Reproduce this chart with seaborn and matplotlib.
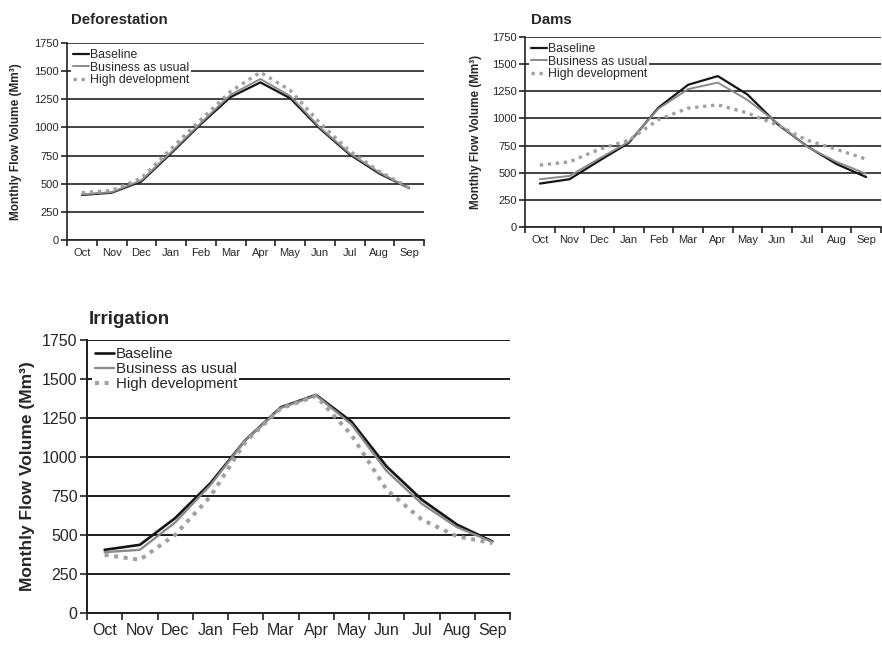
import numpy as np
import pandas as pd
import matplotlib
matplotlib.use("Agg")
import matplotlib.pyplot as plt
import seaborn as sns
from matplotlib.ticker import FixedLocator, NullFormatter

sns.set_style("white")
plt.rcParams['font.family'] = ['Liberation Sans', 'DejaVu Sans']

months = ["Oct", "Nov", "Dec", "Jan", "Feb", "Mar", "Apr", "May", "Jun", "Jul", "Aug", "Sep"]
series_names = ["Baseline", "Business as usual", "High development"]
yticks = [0, 250, 500, 750, 1000, 1250, 1500, 1750]

defor_baseline = [400, 420, 520, 770, 1030, 1270, 1400, 1260, 990, 760, 590, 460]
defor_bau = [405, 425, 530, 780, 1040, 1290, 1430, 1280, 1000, 770, 600, 460]
defor_high = [420, 440, 550, 810, 1070, 1320, 1490, 1330, 1040, 790, 610, 465]

dams_baseline = [400, 440, 610, 775, 1100, 1310, 1390, 1220, 950, 745, 580, 460]
dams_bau = [440, 470, 630, 785, 1090, 1270, 1330, 1170, 960, 740, 600, 490]
dams_high = [570, 600, 715, 800, 990, 1095, 1125, 1050, 940, 800, 715, 625]

irr_baseline = [405, 437, 608, 832, 1110, 1319, 1398, 1227, 939, 726, 566, 459]
irr_bau = [390, 405, 580, 820, 1110, 1315, 1395, 1210, 910, 700, 550, 455]
irr_high = [373, 341, 501, 747, 1099, 1312, 1391, 1142, 790, 598, 491, 448]

styles = {
    "Baseline": dict(color="#151515", lw=1.6, dashes=""),
    "Business as usual": dict(color="#8a8a8a", lw=1.4, dashes=""),
    "High development": dict(color="#a0a0a0", lw=2.4, dashes=(1.0, 1.4)),
}

W, H = 882, 647
fig = plt.figure(figsize=(W / 100, H / 100), dpi=100)


def px_axes(l, r, t, b):
    return fig.add_axes([l / W, 1 - b / H, (r - l) / W, (b - t) / H])


def panel(ax, title, vals, tick_fs, label_fs, leg_fs, title_xy, title_fs, ylabel_x, scale=1.0):
    df = pd.DataFrame({
        "month": np.tile(np.arange(len(months)), 3),
        "value": np.concatenate(vals),
        "series": np.repeat(series_names, len(months)),
    })
    for name in series_names:
        st = styles[name]
        sub = df[df["series"] == name]
        sns.lineplot(data=sub, x="month", y="value", ax=ax, color=st["color"],
                     linewidth=st["lw"] * scale, label=name, legend=False)
        ln = ax.lines[-1]
        if st["dashes"]:
            ln.set_dashes(st["dashes"])
            ln.set_dash_capstyle("butt")
    ax.set_xlim(-0.5, len(months) - 0.5)
    ax.set_ylim(0, 1750)
    ax.set_yticks(yticks)
    ax.set_yticklabels([str(v) for v in yticks], fontsize=tick_fs)
    ax.xaxis.set_major_locator(FixedLocator(np.arange(-0.5, len(months), 1.0)))
    ax.xaxis.set_major_formatter(NullFormatter())
    ax.xaxis.set_minor_locator(FixedLocator(np.arange(len(months))))
    ax.set_xticklabels(months, minor=True, fontsize=tick_fs)
    ax.tick_params(axis="x", which="major", direction="out", length=4 * scale, width=1.2, bottom=True, color="#222")
    ax.tick_params(axis="x", which="minor", length=0, pad=6 * scale)
    ax.tick_params(axis="y", direction="out", length=4 * scale, width=1.2, left=True, color="#222", pad=2)
    ax.grid(axis="y", color="#222", lw=1.2 * scale)
    ax.grid(axis="x", visible=False)
    ax.set_axisbelow(True)
    for s in ["top", "right"]:
        ax.spines[s].set_visible(False)
    for s in ["left", "bottom"]:
        ax.spines[s].set_color("#222")
        ax.spines[s].set_linewidth(1.2 * scale)
    ax.set_xlabel("")
    ax.set_ylabel("Monthly Flow Volume (Mm³)", fontsize=label_fs, fontweight="bold")
    ax.yaxis.set_label_coords(ylabel_x, 0.5)
    handles = ax.lines[:3]
    leg = ax.legend(handles, series_names, loc="upper left", fontsize=leg_fs,
                    frameon=True, fancybox=False, framealpha=1, edgecolor="none",
                    facecolor="white", handlelength=1.3, handletextpad=0.1,
                    labelspacing=0.05, borderpad=0.15, borderaxespad=0.35)
    leg.get_frame().set_linewidth(0)
    fig.text(title_xy[0] / W, 1 - title_xy[1] / H, title, fontsize=title_fs,
             fontweight="bold", ha="left", va="center")


ax1 = px_axes(67, 424, 43, 240)
panel(ax1, "Deforestation", [defor_baseline, defor_bau, defor_high], 8, 8.6, 8.8,
      (71, 20), 10.8, -0.126)

ax2 = px_axes(525, 881, 37, 227)
panel(ax2, "Dams", [dams_baseline, dams_bau, dams_high], 8, 8.4, 8.8,
      (531, 20), 10.8, -0.12)

ax3 = px_axes(87, 510, 340, 613)
panel(ax3, "Irrigation", [irr_baseline, irr_bau, irr_high], 11.5, 12.5, 10.8,
      (89, 320), 13.5, -0.123, scale=1.2)

fig.savefig("out.png", dpi=100)
